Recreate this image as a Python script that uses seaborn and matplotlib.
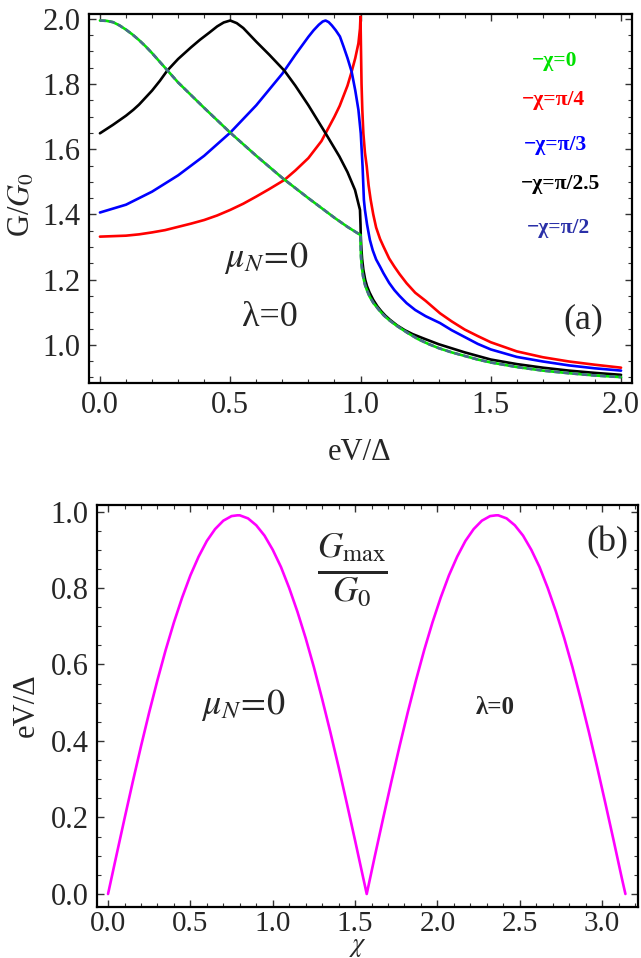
import numpy as np
import pandas as pd
import matplotlib
matplotlib.use("Agg")
import matplotlib.pyplot as plt
import seaborn as sns
from matplotlib.ticker import MultipleLocator

# ---------------- data ----------------
# panel (a): G/G0 vs eV/Delta
x_chi0 = [0.0, 0.025, 0.05, 0.075, 0.1, 0.125, 0.15, 0.175, 0.2, 0.25, 0.3, 0.4, 0.5, 0.6,
          0.7, 0.8, 0.9, 0.95, 1.0, 1.0005, 1.002, 1.005, 1.01, 1.017, 1.024, 1.035, 1.05,
          1.07, 1.09, 1.11, 1.14, 1.18, 1.22, 1.26, 1.3, 1.35, 1.4, 1.45, 1.5, 1.6, 1.7,
          1.8, 1.9, 2.0]
g_chi0 = [1.995, 1.994, 1.99, 1.98, 1.967, 1.952, 1.935, 1.916, 1.895, 1.85, 1.805, 1.727,
          1.651, 1.58, 1.512, 1.45, 1.39, 1.362, 1.337, 1.31, 1.27, 1.24, 1.21, 1.185,
          1.169, 1.148, 1.128, 1.108, 1.09, 1.076, 1.058, 1.037, 1.018, 1.003, 0.99, 0.977,
          0.966, 0.955, 0.946, 0.932, 0.921, 0.913, 0.906, 0.901]

x_pi4 = [0.0, 0.1, 0.15, 0.2, 0.25, 0.3, 0.35, 0.4, 0.45, 0.5, 0.55, 0.6, 0.65, 0.708, 0.75,
         0.8, 0.85, 0.866, 0.9, 0.92, 0.95, 0.966, 0.98, 0.992, 0.998, 1.0, 1.002, 1.004,
         1.007, 1.011, 1.017, 1.024, 1.031, 1.039, 1.049, 1.06, 1.075, 1.088, 1.11, 1.13,
         1.15, 1.177, 1.21, 1.25, 1.305, 1.35, 1.4, 1.45, 1.5, 1.6, 1.7, 1.8, 1.9, 2.0]
g_pi4 = [1.332, 1.335, 1.339, 1.345, 1.352, 1.362, 1.372, 1.383, 1.397, 1.414, 1.433, 1.455,
         1.478, 1.506, 1.535, 1.573, 1.625, 1.649, 1.70, 1.733, 1.795, 1.838, 1.88, 1.925,
         1.97, 2.007, 1.90, 1.80, 1.72, 1.649, 1.59, 1.547, 1.49, 1.445, 1.40, 1.36, 1.325,
         1.302, 1.265, 1.24, 1.217, 1.189, 1.16, 1.135, 1.097, 1.072, 1.047, 1.027, 1.008,
         0.98, 0.962, 0.949, 0.939, 0.930]

x_pi3 = [0.0, 0.1, 0.15, 0.2, 0.25, 0.3, 0.4, 0.5, 0.6, 0.7, 0.75, 0.8, 0.82, 0.84, 0.855,
         0.866, 0.878, 0.89, 0.905, 0.921, 0.935, 0.95, 0.966, 0.98, 0.992, 1.001, 1.008,
         1.013, 1.017, 1.025, 1.036, 1.047, 1.06, 1.075, 1.088, 1.11, 1.13, 1.15, 1.177,
         1.21, 1.25, 1.305, 1.35, 1.4, 1.45, 1.5, 1.6, 1.7, 1.8, 1.9, 2.0]
g_pi3 = [1.406, 1.43, 1.45, 1.47, 1.495, 1.52, 1.58, 1.651, 1.735, 1.832, 1.89, 1.945,
         1.965, 1.982, 1.992, 1.995, 1.99, 1.98, 1.965, 1.946, 1.915, 1.88, 1.838, 1.78,
         1.721, 1.649, 1.547, 1.445, 1.414, 1.37, 1.322, 1.29, 1.262, 1.24, 1.22, 1.19,
         1.168, 1.15, 1.128, 1.107, 1.088, 1.067, 1.045, 1.024, 1.003, 0.986, 0.963, 0.949,
         0.937, 0.928, 0.921]

x_pi25 = [0.0, 0.05, 0.1, 0.128, 0.15, 0.2, 0.23, 0.258, 0.3, 0.35, 0.384, 0.42, 0.45, 0.475,
          0.5, 0.525, 0.55, 0.6, 0.65, 0.708, 0.75, 0.8, 0.866, 0.919, 0.95, 0.979, 0.998,
          1.0, 1.001, 1.003, 1.006, 1.011, 1.018, 1.025, 1.035, 1.049, 1.065, 1.08, 1.095,
          1.113, 1.14, 1.17, 1.2, 1.241, 1.3, 1.4, 1.5, 1.6, 1.7, 1.8, 1.9, 2.0]
g_pi25 = [1.649, 1.675, 1.703, 1.721, 1.737, 1.78, 1.81, 1.841, 1.877, 1.913, 1.936, 1.958,
          1.977, 1.989, 1.995, 1.987, 1.972, 1.93, 1.89, 1.841, 1.795, 1.735, 1.649, 1.578,
          1.53, 1.475, 1.414, 1.37, 1.335, 1.30, 1.265, 1.23, 1.20, 1.18, 1.16, 1.138,
          1.118, 1.103, 1.09, 1.077, 1.06, 1.045, 1.033, 1.02, 1.002, 0.977, 0.955, 0.941,
          0.930, 0.921, 0.914, 0.908]

# pi/2 coincides with chi = 0
x_pi2 = x_chi0
g_pi2 = g_chi0

# panel (b): eV/Delta at G_max vs chi
chi_b = [0.0, 0.05, 0.1, 0.15, 0.2, 0.25, 0.3, 0.35, 0.4, 0.45, 0.5, 0.55, 0.6, 0.65, 0.7,
         0.75, 0.785, 0.8, 0.85, 0.9, 0.95, 1.0, 1.05, 1.1, 1.15, 1.2, 1.25, 1.3, 1.35, 1.4,
         1.45, 1.5, 1.55, 1.5708,
         1.62, 1.67, 1.72, 1.77, 1.82, 1.87, 1.92, 1.97, 2.02, 2.07, 2.12, 2.17, 2.22, 2.27,
         2.32, 2.356, 2.37, 2.42, 2.47, 2.52, 2.57, 2.62, 2.67, 2.72, 2.77, 2.82, 2.87, 2.92,
         2.97, 3.02, 3.07, 3.12, 3.1416]
ev_b = [0.0, 0.099, 0.197, 0.293, 0.386, 0.475, 0.559, 0.638, 0.71, 0.775, 0.833, 0.882,
        0.923, 0.954, 0.976, 0.988, 0.99, 0.99, 0.982, 0.964, 0.937, 0.90, 0.855, 0.80,
        0.738, 0.669, 0.593, 0.51, 0.423, 0.332, 0.237, 0.14, 0.041, 0.0,
        0.099, 0.197, 0.293, 0.386, 0.475, 0.559, 0.638, 0.71, 0.775, 0.833, 0.882, 0.923,
        0.954, 0.976, 0.988, 0.99, 0.99, 0.982, 0.964, 0.937, 0.90, 0.855, 0.80, 0.738,
        0.669, 0.593, 0.51, 0.423, 0.332, 0.237, 0.14, 0.041, 0.0]

labels_a = ["−χ=0", "−χ=π/4", "−χ=π/3", "−χ=π/2.5", "−χ=π/2"]
label_colors = ["#00e000", "#ff0000", "#0000ff", "#000000", "#2a30a8"]
xticks_a = [0.0, 0.5, 1.0, 1.5, 2.0]
yticks_a = [1.0, 1.2, 1.4, 1.6, 1.8, 2.0]
xticks_b = [0.0, 0.5, 1.0, 1.5, 2.0, 2.5, 3.0]
yticks_b = [0.0, 0.2, 0.4, 0.6, 0.8, 1.0]

# ---------------- style ----------------
sns.set_theme(style="ticks")
plt.rcParams["font.family"] = ["Liberation Serif", "DejaVu Serif"]
plt.rcParams["mathtext.fontset"] = "stix"
plt.rcParams["axes.linewidth"] = 1.6
plt.rcParams["axes.edgecolor"] = "black"

W, H = 641, 958
fig = plt.figure(figsize=(W / 100, H / 100), dpi=100)

def px_axes(l, t, r, b):
    return fig.add_axes([l / W, 1 - b / H, (r - l) / W, (b - t) / H])

ax1 = px_axes(89, 14, 632, 383)
ax2 = px_axes(97, 505, 638, 907)

lw = 1.9
def draw(ax, x, y, color, **kw):
    df = pd.DataFrame({"x": x, "y": y})
    sns.lineplot(data=df, x="x", y="y", ax=ax, color=color, lw=lw,
                 sort=False, estimator=None, **kw)

draw(ax1, x_pi4, g_pi4, "#ff0000")
draw(ax1, x_pi3, g_pi3, "#0000ff")
draw(ax1, x_pi25, g_pi25, "#000000")
draw(ax1, x_chi0, g_chi0, "#00e600")
draw(ax1, x_pi2, g_pi2, "#4a6a8c", linestyle=(0, (2.2, 1.3)))

draw(ax2, chi_b, ev_b, "#ff00ff")

def style_axis(ax, xt, yt, xminor, yminor):
    ax.set_xticks(xt)
    ax.set_yticks(yt)
    ax.set_xticklabels([f"{v:.1f}" for v in xt])
    ax.set_yticklabels([f"{v:.1f}" for v in yt])
    ax.xaxis.set_minor_locator(MultipleLocator(xminor))
    ax.yaxis.set_minor_locator(MultipleLocator(yminor))
    ax.tick_params(which="both", direction="in", top=True, right=True,
                   labelsize=22, color="#333333")
    ax.tick_params(which="major", length=5, width=1.0, pad=6)
    ax.tick_params(which="minor", length=3, width=0.8)
    ax.set_xlabel("")
    ax.set_ylabel("")
    for s in ax.spines.values():
        s.set_linewidth(1.6)

style_axis(ax1, xticks_a, yticks_a, 0.1, 0.05)
ax1.set_xlim(-0.042, 2.042)
ax1.set_ylim(0.883, 2.015)

style_axis(ax2, xticks_b, yticks_b, 0.1, 0.05)
ax2.set_xlim(-0.067, 3.218)
ax2.set_ylim(-0.034, 1.017)
ax2.tick_params(axis="x", which="major", pad=3, labelsize=21)

def ftext(x, y, s, **kw):
    fig.text(x / W, 1 - y / H, s, ha="center", va="center", **kw)

# axis labels
ftext(360, 452, "eV/Δ", fontsize=22)
ftext(22, 205, r"G/$G_0$", fontsize=22, rotation=90)
ftext(358, 948, r"$\chi$", fontsize=19)
ftext(26, 705, "eV/Δ", fontsize=22, rotation=90)

# panel (a) legend texts
leg_pos = [(555, 61), (553, 100), (555, 145), (560, 184), (558, 228)]
for (lx, ly), s, c in zip(leg_pos, labels_a, label_colors):
    ftext(lx, ly, s, fontsize=15.5, color=c, fontweight="bold")

ftext(266, 258, r"$\mu_N\!=\!0$", fontsize=26)
ftext(270, 318, "λ=0", fontsize=26)
ftext(583, 320, "(a)", fontsize=26)

# panel (b) texts
ftext(352, 570, r"$\frac{G_{\rm max}}{G_0}$", fontsize=36)
ftext(607, 543, "(b)", fontsize=26)
ftext(243, 705, r"$\mu_N\!=\!0$", fontsize=26)
ftext(495, 707, "λ=0", fontsize=18, fontweight="bold")

fig.savefig("out.png", dpi=100)
